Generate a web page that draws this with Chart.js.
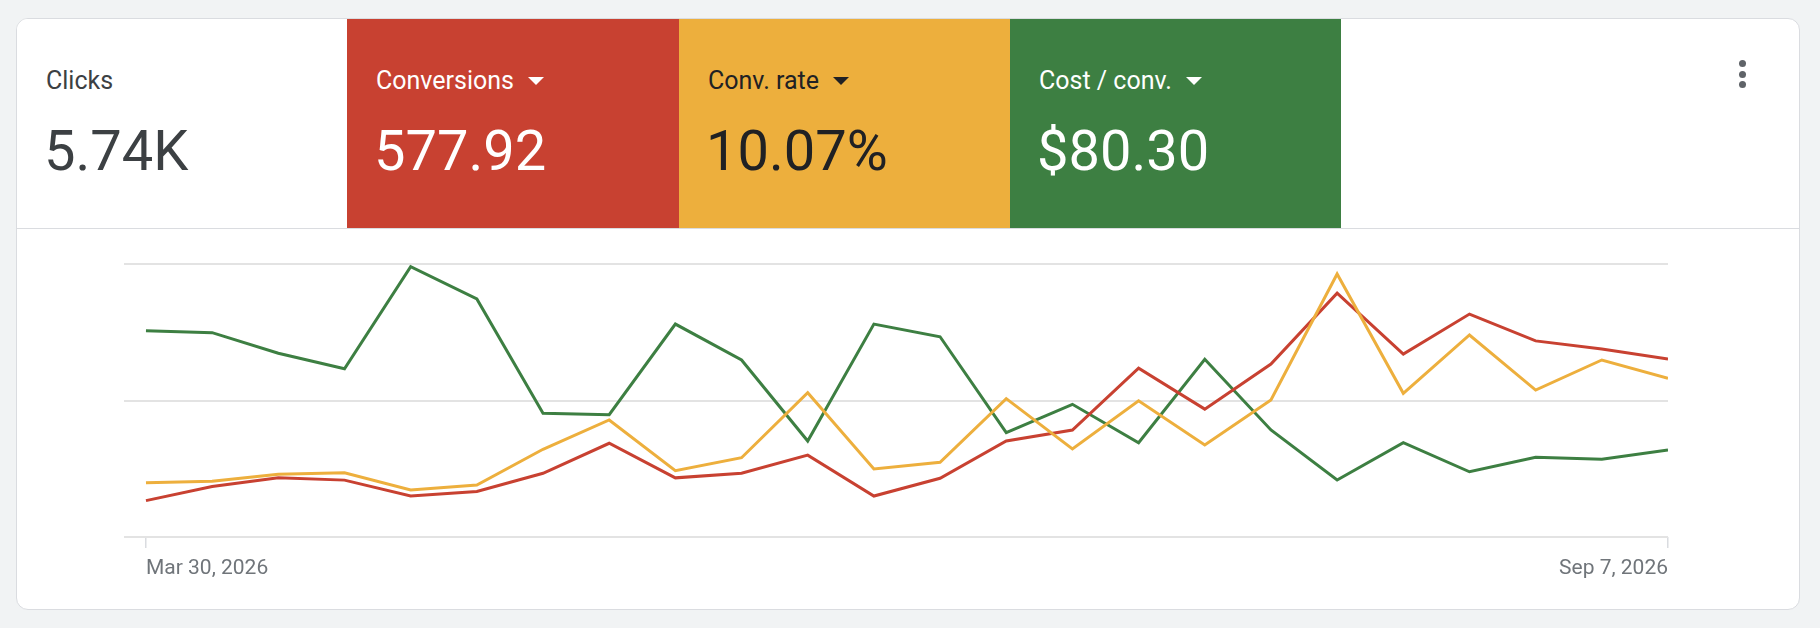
<!DOCTYPE html>
<html>
<head>
<meta charset="utf-8">
<script src="https://cdn.jsdelivr.net/npm/chart.js@4/dist/chart.umd.min.js"></script>
<style>
  html, body { margin: 0; padding: 0; }
  body {
    width: 1820px; height: 628px; overflow: hidden;
    background: #f1f3f4;
    font-family: Roboto, 'Noto Sans', sans-serif;
    position: relative;
  }
  .card {
    position: absolute; left: 16px; top: 18px; width: 1784px; height: 592px;
    box-sizing: border-box; background: #fff;
    border: 1px solid #dadce0; border-radius: 12px; overflow: hidden;
  }
  .divider {
    position: absolute; left: 0; right: 0; top: 209px; height: 1px; background: #dadce0;
  }
  .tile {
    position: absolute; top: 0; height: 209px; box-sizing: border-box;
  }
  .tile .label {
    position: absolute; left: 29px; top: 49px;
    font-size: 25px; line-height: 25px; white-space: nowrap;
  }
  .tile .value {
    position: absolute; left: 27px; top: 104px;
    font-size: 56px; line-height: 56px; white-space: nowrap;
  }
  .caret {
    display: inline-block; width: 0; height: 0; margin-left: 14px; vertical-align: 4px;
    border-left: 8.5px solid transparent; border-right: 8.5px solid transparent;
    border-top: 8.5px solid currentColor;
  }
  .kebab { position: absolute; left: 1722px; top: 41px; }
  .kebab span {
    display: block; width: 7px; height: 7px; border-radius: 50%;
    background: #5f6368; margin-bottom: 3.5px;
  }
  #chartBox { position: absolute; left: 124px; top: 260px; width: 1552px; height: 322px; }
</style>
</head>
<body>
<div class="card">
  <div class="tile" id="t0" style="left:0; width:330px;"></div>
  <div class="tile" id="t1" style="left:330px; width:332px;"></div>
  <div class="tile" id="t2" style="left:662px; width:331px;"></div>
  <div class="tile" id="t3" style="left:993px; width:331px;"></div>
  <div class="divider"></div>
  <div class="kebab"><span></span><span></span><span></span></div>
</div>
<div id="chartBox"><canvas id="chart"></canvas></div>

<script>
// Summary tiles
const tileNames = ['Clicks', 'Conversions', 'Conv. rate', 'Cost / conv.'];
const tileTotals = ['5.74K', '577.92', '10.07%', '$80.30'];
const tileColors = ['#ffffff', '#c84131', '#edaf3d', '#3d7f42'];
const tileTextColors = ['#3c4043', '#ffffff', '#202124', '#ffffff'];

// Weekly series
const weekLabels = [
  'Mar 30, 2026', 'Apr 6, 2026', 'Apr 13, 2026', 'Apr 20, 2026', 'Apr 27, 2026', 'May 4, 2026',
  'May 11, 2026', 'May 18, 2026', 'May 25, 2026', 'Jun 1, 2026', 'Jun 8, 2026', 'Jun 15, 2026',
  'Jun 22, 2026', 'Jun 29, 2026', 'Jul 6, 2026', 'Jul 13, 2026', 'Jul 20, 2026', 'Jul 27, 2026',
  'Aug 3, 2026', 'Aug 10, 2026', 'Aug 17, 2026', 'Aug 24, 2026', 'Aug 31, 2026', 'Sep 7, 2026'
];
const conversions = [8.0, 11.1, 13.0, 12.5, 9.0, 10.0, 14.0, 20.6, 13.0, 14.0, 18.0, 9.0,
                     12.9, 21.1, 23.5, 37.1, 28.1, 38.0, 53.6, 40.2, 49.0, 43.1, 41.3, 39.1];
const convRate = [4.77, 4.90, 5.51, 5.65, 4.13, 4.57, 7.71, 10.29, 5.83, 6.97, 12.69, 5.98,
                  6.57, 12.16, 7.74, 11.98, 8.09, 12.04, 23.12, 12.63, 17.76, 12.92, 15.56, 13.95];
const costPerConv = [151.1, 149.7, 134.6, 123.3, 198.0, 174.4, 90.6, 89.6, 156.0, 129.7, 70.3, 156.0,
                     146.7, 76.4, 97.2, 69.1, 130.2, 78.4, 41.8, 69.1, 47.8, 58.4, 56.9, 63.7];

// fill the tiles
tileNames.forEach((name, i) => {
    const t = document.getElementById('t' + i);
    t.style.background = tileColors[i];
    t.style.color = tileTextColors[i];
    const label = document.createElement('div');
    label.className = 'label';
    label.textContent = name;
    if (i > 0) {
        const caret = document.createElement('span');
        caret.className = 'caret';
        label.appendChild(caret);
    }
    const value = document.createElement('div');
    value.className = 'value';
    value.textContent = tileTotals[i];
    t.appendChild(label);
    t.appendChild(value);
});

const toPoints = arr => arr.map((v, i) => ({ x: i, y: v }));

function lineSet(label, data, color, axis) {
    return {
        label: label,
        data: toPoints(data),
        borderColor: color,
        backgroundColor: color,
        borderWidth: 3,
        tension: 0,
        pointRadius: 0,
        fill: false,
        yAxisID: axis
    };
}

new Chart(document.getElementById('chart').getContext('2d'), {
    type: 'line',
    data: {
        datasets: [
            lineSet('Conv. rate', convRate, tileColors[2], 'yRate'),
            lineSet('Conversions', conversions, tileColors[1], 'y'),
            lineSet('Cost / conv.', costPerConv, tileColors[3], 'yCost')
        ]
    },
    options: {
        responsive: true,
        maintainAspectRatio: false,
        animation: false,
        layout: { padding: { top: 4, right: 4, left: 0, bottom: 0 } },
        plugins: {
            legend: { display: false },
            tooltip: { enabled: false }
        },
        scales: {
            x: {
                type: 'linear',
                min: -0.332,
                max: weekLabels.length - 1,
                afterBuildTicks: axis => {
                    axis.ticks = [{ value: 0 }, { value: weekLabels.length - 1 }];
                },
                afterFit: axis => { axis.height = 45; },
                ticks: {
                    autoSkip: false,
                    maxRotation: 0,
                    align: 'inner',
                    padding: 8,
                    color: '#70757a',
                    font: { family: 'Roboto', size: 21 },
                    callback: v => weekLabels[v]
                },
                grid: {
                    drawOnChartArea: false,
                    drawTicks: true,
                    tickLength: 11,
                    tickColor: '#dadce0',
                    lineWidth: 1.5
                },
                border: { display: false }
            },
            y: {
                min: 0,
                max: 60,
                ticks: { display: false, stepSize: 30 },
                afterFit: axis => { axis.width = 0; },
                grid: { color: '#e3e3e3', lineWidth: 2, drawTicks: false },
                border: { display: false }
            },
            yRate: { display: false, min: 0, max: 24 },
            yCost: { display: false, min: 0, max: 200 }
        }
    }
});
</script>
</body>
</html>
